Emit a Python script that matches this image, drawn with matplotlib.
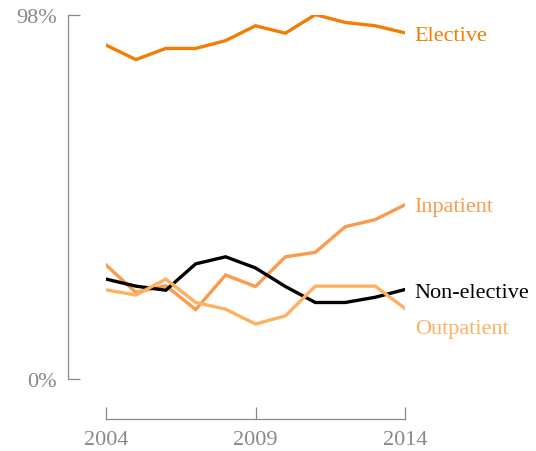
import matplotlib.pyplot as plt
import numpy as np

plt.rcParams['font.family'] = ['Liberation Serif', 'DejaVu Serif']

years = list(range(2004, 2015))
elective = [89.9, 86.0, 89.0, 89.0, 91.1, 95.1, 93.1, 98.1, 96.0, 95.1, 93.2]
inpatient = [30.7, 23.3, 25.1, 18.7, 28.0, 24.9, 32.9, 34.1, 41.0, 42.9, 46.9]
non_elective = [26.9, 25.0, 23.9, 31.0, 32.9, 29.9, 24.9, 20.6, 20.6, 22.0, 24.1]
outpatient = [24.0, 22.6, 26.9, 20.6, 18.8, 14.8, 17.0, 25.0, 25.0, 25.0, 19.0]

series = [
    ("Elective", elective, "#f27d00", 93.2),
    ("Inpatient", inpatient, "#fb9a4b", 47.2),
    ("Non-elective", non_elective, "#000000", 24.0),
    ("Outpatient", outpatient, "#fdb05e", 14.2),
]

fig = plt.figure(figsize=(5.36, 4.52), dpi=100)
ax = fig.add_axes([106 / 536, 1 - 380 / 452, 299 / 536, 364 / 452])

for name, vals, col, label_y in series:
    ax.plot(years, vals, color=col, lw=2.4, solid_joinstyle='miter')
    ax.annotate(name, xy=(years[-1], label_y), xytext=(7, 0),
                textcoords='offset points', color=col, fontsize=16,
                va='center_baseline', ha='left', annotation_clip=False)

ax.set_xlim(2004, 2014)
ax.set_ylim(0, 98)

grey = "#888888"
ax.spines['top'].set_visible(False)
ax.spines['right'].set_visible(False)
ax.spines['left'].set_position(('outward', 27.5))
ax.spines['bottom'].set_position(('outward', 29))
ax.spines['left'].set_bounds(0, 98)
ax.spines['bottom'].set_bounds(2004, 2014)
for s in ['left', 'bottom']:
    ax.spines[s].set_color(grey)
    ax.spines[s].set_linewidth(0.9)

ax.set_xticks([2004, 2009, 2014])
ax.set_xticklabels(["2004", "2009", "2014"])
ax.set_yticks([0, 98])
ax.set_yticklabels(["0%", "98%"])
ax.tick_params(direction='in', length=8.5, width=0.9, color=grey,
               labelcolor=grey, labelsize=16)
ax.tick_params(axis='x', pad=8)
ax.tick_params(axis='y', pad=8)

fig.savefig("out.png", dpi=100)
